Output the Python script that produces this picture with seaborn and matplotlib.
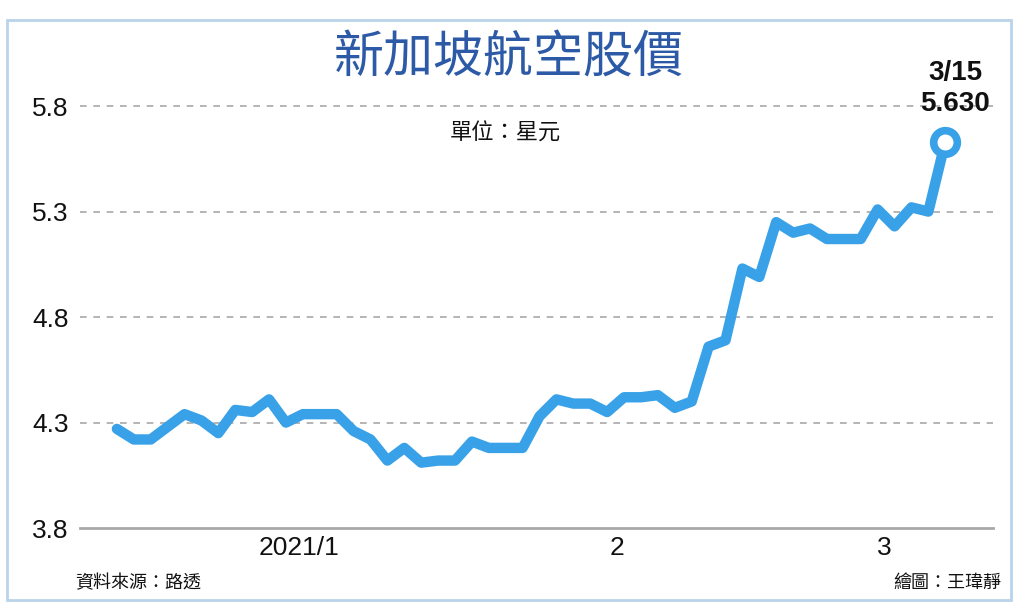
import matplotlib
matplotlib.use("Agg")
import matplotlib.pyplot as plt
import seaborn as sns
import pandas as pd
from matplotlib.patches import Rectangle

# ---- data ----
prices = [4.27, 4.22, 4.22, 4.28, 4.34, 4.31, 4.25, 4.36, 4.35, 4.41,
          4.30, 4.34, 4.34, 4.34, 4.26, 4.22, 4.12, 4.18, 4.11, 4.12,
          4.12, 4.21, 4.18, 4.18, 4.18, 4.33, 4.41, 4.39, 4.39, 4.35,
          4.42, 4.42, 4.43, 4.37, 4.40, 4.66, 4.69, 5.03, 4.99, 5.25,
          5.20, 5.22, 5.17, 5.17, 5.17, 5.31, 5.23, 5.32, 5.30, 5.63]
month_labels = ["2021/1", "2", "3"]
month_start_idx = [0, 20, 39]
yticks = [3.8, 4.3, 4.8, 5.3, 5.8]
ytick_labels = ["3.8", "4.3", "4.8", "5.3", "5.8"]
title = "新加坡航空股價"
unit = "單位：星元"
source = "資料來源：路透"
credit = "繪圖：王瑋靜"
last_date = "3/15"
last_value = "5.630"

df = pd.DataFrame({"idx": range(len(prices)), "price": prices})

sns.set_theme(style="white")
cjk = ["Noto Sans CJK TC", "DejaVu Sans"]
num = ["Liberation Sans", "DejaVu Sans"]
plt.rcParams["font.family"] = cjk

fig = plt.figure(figsize=(10.24, 6.07), dpi=100)
fig.patch.set_facecolor("white")
ax = fig.add_axes([0.078, 0.130, 0.892, 0.730])

line_color = "#38a1e8"
sns.lineplot(data=df, x="idx", y="price", ax=ax, color=line_color,
             linewidth=7.5, solid_joinstyle="round", solid_capstyle="round")
ax.plot([df["idx"].iloc[-1]], [df["price"].iloc[-1]], marker="o", markersize=17,
        markerfacecolor="white", markeredgecolor=line_color, markeredgewidth=5.5,
        clip_on=False, zorder=5)

ax.set_xlim(-2.19, 51.84)
ax.set_ylim(3.8, 5.9)
ax.set_xlabel("")
ax.set_ylabel("")

ax.set_yticks(yticks)
ax.set_yticklabels(ytick_labels, fontsize=19, family=num, color="#111111")
ax.tick_params(axis="y", length=0, pad=8)
for v in yticks[1:]:
    ax.axhline(v, color="#a8a8a8", linestyle=(0, (4, 4)), linewidth=1.2, zorder=0)

# month boundary ticks and centered labels
ax.set_xticks(month_start_idx)
ax.set_xticklabels([""] * len(month_start_idx))
ax.tick_params(axis="x", which="major", length=10, width=1.2, color="#b0b0b0",
               direction="out")
label_pos = [10.8, 29.6, 45.4]
ax.set_xticks(label_pos, minor=True)
ax.set_xticklabels(month_labels, minor=True, fontsize=19, family=num, color="#111111")
ax.tick_params(axis="x", which="minor", length=0, pad=6)

for s in ["left", "right", "top"]:
    ax.spines[s].set_visible(False)
ax.spines["bottom"].set_color("#a8a8a8")
ax.spines["bottom"].set_linewidth(2)

# texts
fig.text(0.497, 0.903, title, ha="center", va="center", fontsize=36,
         color="#2d5aa6", family=cjk)
fig.text(0.493, 0.781, unit, ha="center", va="center", fontsize=16,
         color="#111111", family=cjk)
fig.text(0.933, 0.880, last_date, ha="center", va="center", fontsize=20,
         fontweight="bold", family=num, color="#111111")
fig.text(0.933, 0.828, last_value, ha="center", va="center", fontsize=20,
         fontweight="bold", family=num, color="#111111")
fig.text(0.073, 0.040, source, ha="left", va="center", fontsize=13,
         color="#111111", family=cjk)
fig.text(0.978, 0.040, credit, ha="right", va="center", fontsize=13,
         color="#111111", family=cjk)

# light blue frame
fig.patches.append(Rectangle((0.007, 0.012), 0.980, 0.955, transform=fig.transFigure,
                             fill=False, edgecolor="#b9d3ea", linewidth=2))

fig.savefig("out.png", dpi=100, facecolor="white")
